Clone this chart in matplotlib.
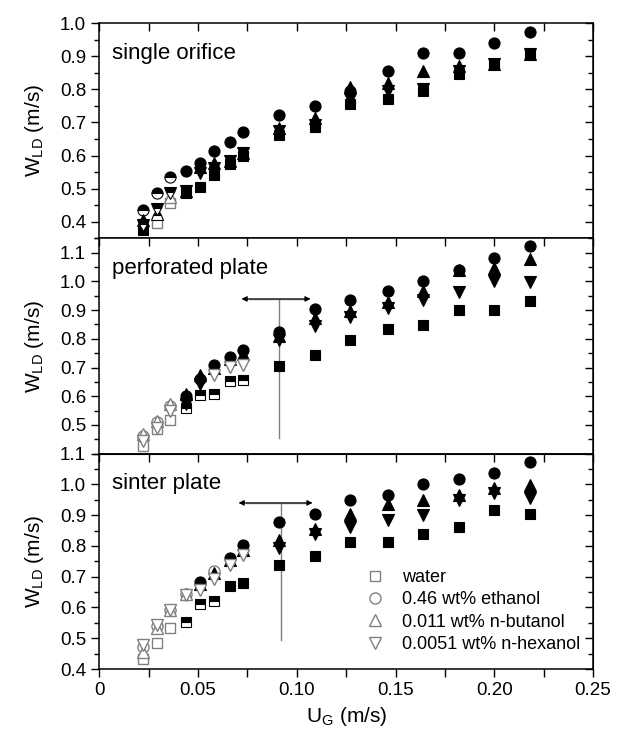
import matplotlib
matplotlib.use("Agg")
import matplotlib.pyplot as plt
from matplotlib.lines import Line2D
from matplotlib.ticker import MultipleLocator

plt.rcParams["font.family"] = ["Liberation Sans", "DejaVu Sans"]
plt.rcParams["mathtext.fontset"] = "custom"
plt.rcParams["mathtext.rm"] = "Liberation Sans"

# superficial gas velocity U_G (m/s), same for all three spargers
ug = [0.022, 0.029, 0.036, 0.044, 0.051, 0.058, 0.066, 0.073,
      0.091, 0.109, 0.127, 0.146, 0.164, 0.182, 0.200, 0.218]

series = ["water", "0.46 wt% ethanol", "0.011 wt% n-butanol", "0.0051 wt% n-hexanol"]

# single orifice, W_LD (m/s)
single_water = [0.375, 0.395, 0.456, 0.486, 0.506, 0.541, 0.575, 0.600,
                0.662, 0.687, 0.757, 0.772, 0.795, 0.847, 0.875, 0.905]
single_ethanol = [0.435, 0.487, 0.534, 0.553, 0.576, 0.614, 0.641, 0.671,
                  0.723, 0.750, 0.795, 0.854, 0.908, 0.908, 0.939, 0.972]
single_butanol = [0.405, 0.425, 0.476, 0.494, 0.566, 0.576, 0.582, 0.607,
                  0.683, 0.712, 0.806, 0.818, 0.856, 0.869, 0.877, 0.906]
single_hexanol = [0.390, 0.440, 0.486, 0.494, 0.546, 0.561, 0.582, 0.607,
                  0.673, 0.692, 0.772, 0.795, 0.800, 0.856, 0.877, 0.906]

# perforated plate
perf_water = [0.427, 0.485, 0.517, 0.558, 0.603, 0.609, 0.653, 0.656,
              0.706, 0.745, 0.797, 0.835, 0.847, 0.901, 0.901, 0.933]
perf_ethanol = [0.460, 0.510, 0.565, 0.600, 0.660, 0.709, 0.736, 0.760,
                0.824, 0.904, 0.936, 0.968, 1.001, 1.040, 1.080, 1.125]
perf_butanol = [0.467, 0.515, 0.573, 0.609, 0.674, 0.700, 0.730, 0.747,
                0.810, 0.872, 0.897, 0.930, 0.968, 1.041, 1.045, 1.077]
perf_hexanol = [0.444, 0.490, 0.550, 0.573, 0.644, 0.674, 0.703, 0.709,
                0.797, 0.845, 0.876, 0.907, 0.935, 0.962, 1.001, 0.998]

# sinter plate
sinter_water = [0.431, 0.485, 0.534, 0.553, 0.611, 0.622, 0.669, 0.681,
                0.737, 0.768, 0.813, 0.813, 0.838, 0.862, 0.918, 0.903]
sinter_ethanol = [0.470, 0.540, 0.591, 0.645, 0.683, 0.718, 0.761, 0.802,
                  0.878, 0.905, 0.951, 0.967, 1.000, 1.019, 1.037, 1.073]
sinter_butanol = [0.456, 0.532, 0.591, 0.645, 0.676, 0.712, 0.755, 0.788,
                  0.818, 0.856, 0.905, 0.938, 0.951, 0.965, 0.990, 0.999]
sinter_hexanol = [0.478, 0.543, 0.591, 0.640, 0.658, 0.694, 0.737, 0.770,
                  0.795, 0.838, 0.862, 0.886, 0.900, 0.948, 0.973, 0.957]

panels = [
    ("single orifice", [single_water, single_ethanol, single_butanol, single_hexanol],
     ["foo", "ttt", "fto", "ttt"], (0.35, 1.0), [0.4, 0.5, 0.6, 0.7, 0.8, 0.9, 1.0], None),
    ("perforated plate", [perf_water, perf_ethanol, perf_butanol, perf_hexanol],
     ["ooottttt", "ooofffff", "ooofffff", "oooffooo"], (0.4, 1.15),
     [0.5, 0.6, 0.7, 0.8, 0.9, 1.0, 1.1], (0.091, 0.455, 0.939, 0.072, 0.107)),
    ("sinter plate", [sinter_water, sinter_ethanol, sinter_butanol, sinter_hexanol],
     ["oootttff", "oooofoff", "ooooffff", "oooooooo"], (0.4, 1.1),
     [0.4, 0.5, 0.6, 0.7, 0.8, 0.9, 1.0, 1.1], (0.092, 0.494, 0.94, 0.0705, 0.108)),
]

markers = ["s", "o", "^", "v"]
sizes = [7, 8, 8.5, 8.5]
grey = "#808080"

fig, axes = plt.subplots(3, 1, figsize=(6.18, 7.33), dpi=100, sharex=True)
fig.subplots_adjust(left=0.1607, right=0.9595, top=0.9686, bottom=0.0873, hspace=0)

for i, (ax, (title, data, fills, ylim, yticks, arrow)) in enumerate(zip(axes, panels)):
    for vals, code, mk, ms in zip(data, fills, markers, sizes):
        code = code.ljust(len(ug), "f")
        for style in "oft":
            xs = [x for x, c in zip(ug, code) if c == style]
            ys = [y for y, c in zip(vals, code) if c == style]
            if not xs:
                continue
            if style == "o":
                kw = dict(mfc="white", mec=grey, mew=1.0)
            elif style == "f":
                kw = dict(mfc="black", mec="black", mew=0.8)
            else:
                kw = dict(mfc="black", mfcalt="white", fillstyle="top", mec="black", mew=0.8)
            ax.plot(xs, ys, linestyle="none", marker=mk, ms=ms, zorder=3, **kw)

    # transition marker: vertical line with a double arrow on top
    if arrow is not None:
        xv, y0, y1, xa, xb = arrow
        ax.plot([xv, xv], [y0, y1], color=grey, lw=1.0, zorder=2)
        ax.annotate("", xy=(xa, y1), xytext=(xb, y1),
                    arrowprops=dict(arrowstyle="<|-|>", color="black", lw=0.8,
                                    mutation_scale=8, shrinkA=0, shrinkB=0))
        ax.plot([xa + 0.004, xb - 0.004], [y1, y1], color=grey, lw=1.0, zorder=2)

    ax.text(0.025, 0.86, title, transform=ax.transAxes, fontsize=16, va="center", ha="left")
    ax.set_ylim(*ylim)
    ax.set_yticks(yticks)
    ax.yaxis.set_minor_locator(MultipleLocator(0.05))
    ax.set_ylabel(r"W$_\mathrm{LD}$ (m/s)", fontsize=15)
    ax.yaxis.set_label_coords(-0.108, 0.5)
    ax.tick_params(axis="y", which="both", left=True, right=False, direction="out", labelsize=13.5)
    ax.tick_params(axis="y", which="major", length=6, width=1)
    ax.tick_params(axis="y", which="minor", length=3.5, width=1)
    ax.tick_params(axis="x", which="both", top=True, direction="in", bottom=(i == 2), width=1)
    ax.tick_params(axis="x", which="major", length=6)
    ax.tick_params(axis="x", which="minor", length=6)
    for s in ax.spines.values():
        s.set_linewidth(1.1)

    # mirrored right ticks pointing inwards
    sec = ax.secondary_yaxis("right")
    sec.set_yticks(yticks)
    sec.yaxis.set_minor_locator(MultipleLocator(0.05))
    sec.tick_params(which="both", direction="in", labelright=False, width=1)
    sec.tick_params(which="major", length=6)
    sec.tick_params(which="minor", length=3.5)

ax = axes[2]
ax.set_xlim(0, 0.25)
ax.set_xticks([0, 0.05, 0.10, 0.15, 0.20, 0.25])
ax.set_xticklabels(["0", "0.05", "0.10", "0.15", "0.20", "0.25"])
ax.xaxis.set_minor_locator(MultipleLocator(0.025))
ax.tick_params(axis="x", which="both", bottom=True, labelsize=13.5)
ax.xaxis.set_tick_params(which="both", direction="out", bottom=True, top=False)
sec_x = ax.secondary_xaxis("top")
sec_x.set_xticks([0, 0.05, 0.10, 0.15, 0.20, 0.25])
sec_x.xaxis.set_minor_locator(MultipleLocator(0.025))
sec_x.tick_params(which="both", direction="in", labeltop=False, length=6, width=1)
ax.set_xlabel(r"U$_\mathrm{G}$ (m/s)", fontsize=15, labelpad=4)

handles = [Line2D([], [], linestyle="none", marker=mk, ms=ms, mfc="white", mec=grey, mew=1.0)
           for mk, ms in zip(markers, sizes)]
ax.legend(handles, series, loc="lower left", bbox_to_anchor=(0.525, 0.04), frameon=False,
          fontsize=13, handlelength=1.0, handletextpad=1.0, labelspacing=0.3, borderaxespad=0)

fig.savefig("out.png", dpi=100)
